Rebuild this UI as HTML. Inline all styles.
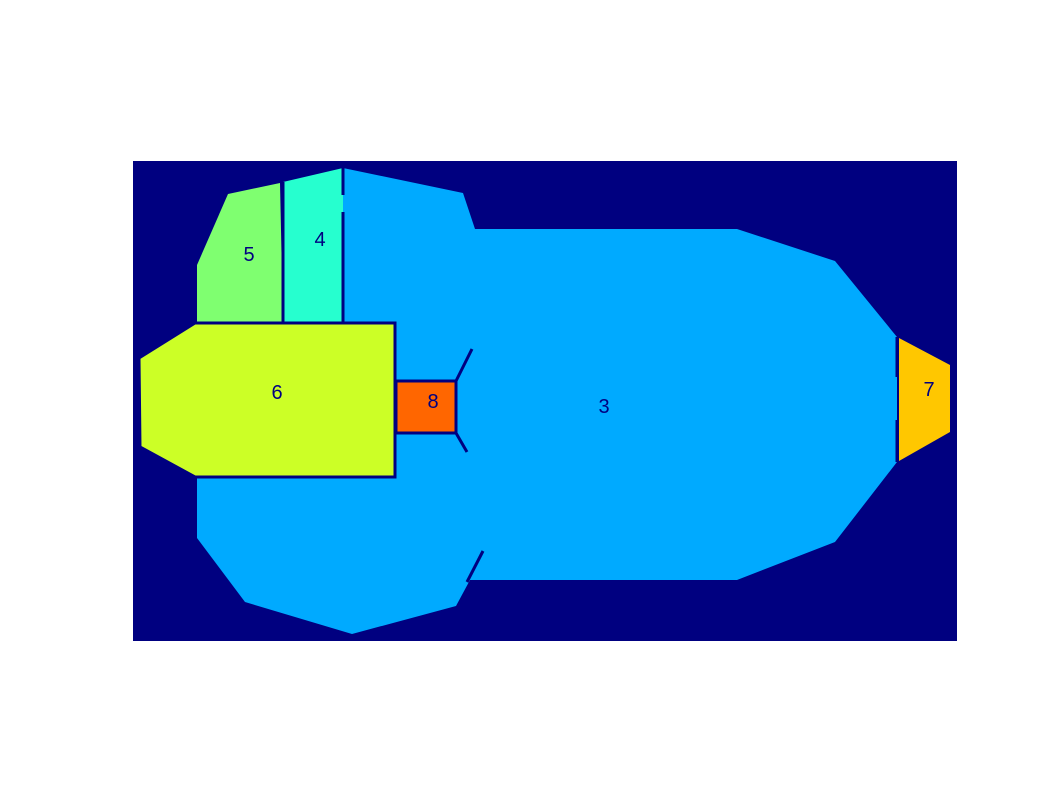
<!DOCTYPE html>
<html><head><meta charset="utf-8"><style>
html,body{margin:0;padding:0;background:#fff;width:1062px;height:796px;overflow:hidden}
svg{display:block}
text{font-family:"Liberation Sans",sans-serif;font-size:20px;fill:#000080;text-anchor:middle;dominant-baseline:central}
</style></head><body>
<svg width="1062" height="796">
<rect x="133" y="161" width="824" height="480" fill="#000080"/>
<polygon fill="#00AAFF" points="343,168 463,193 475,229 737,229 835,261 897,337 897,462 835,542 737,580 470,580 456,606 352,634 245,602 197,538 197,477 395,477 395,323 343,323"/>
<polygon fill="#7FFF70" points="228,194 280,183 283,323 197,323 197,265"/>
<polygon fill="#26FFCF" points="283,182 343,168 343,323 283,323"/>
<polygon fill="#CCFF26" stroke="#000080" stroke-width="3" points="195,323 395,323 395,477 195,477 140,447 139,358"/>
<rect x="396" y="381" width="60" height="52" fill="#FF6600" stroke="#000080" stroke-width="3"/>
<polygon fill="#FFC700" points="899,338 950,365 950,432 899,461"/>
<g stroke="#000080" stroke-width="3" fill="none">
<line x1="283" y1="182" x2="283" y2="323"/>
<line x1="343" y1="168" x2="343" y2="195"/>
<line x1="343" y1="212" x2="343" y2="323"/>
<line x1="456" y1="381" x2="472" y2="349"/>
<line x1="456" y1="433" x2="467" y2="452"/>
<line x1="483" y1="551" x2="467" y2="582"/>
<line x1="897" y1="337" x2="897" y2="377"/>
<line x1="897" y1="420" x2="897" y2="462"/>
</g>
<g>
<text x="249" y="255">5</text>
<text x="320" y="240">4</text>
<text x="277" y="393">6</text>
<text x="433" y="402">8</text>
<text x="604" y="407">3</text>
<text x="929" y="390">7</text>
</g>
</svg>
</body></html>
